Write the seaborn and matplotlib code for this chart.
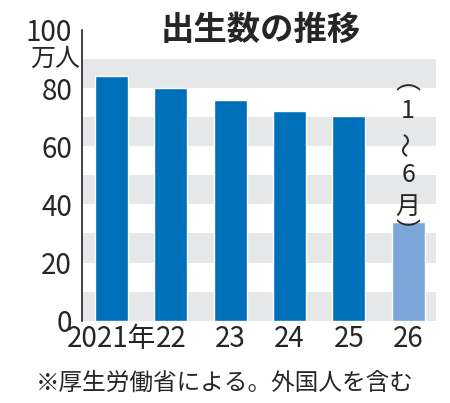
import matplotlib
matplotlib.use("Agg")
import matplotlib.pyplot as plt
import seaborn as sns
import pandas as pd

years = ["2021年", "22", "23", "24", "25", "26"]
births = [84.2, 80.0, 75.9, 72.2, 70.4, 34.0]
colors = ["#0070bb"] * 5 + ["#7ba7d8"]

sns.set_style("white")
plt.rcParams['font.family'] = ['Noto Sans CJK JP', 'DejaVu Sans']

df = pd.DataFrame({"year": years, "births": births})
fig = plt.figure(figsize=(4.5, 4.03), dpi=100)
ax = fig.add_axes([0.182, 0.204, 0.787, 0.722])

for lo in range(0, 100, 20):
    ax.axhspan(lo, lo + 10, color="#e6e7e8", zorder=0, lw=0)

sns.barplot(data=df, x="year", y="births", hue="year", palette=colors,
            legend=False, width=0.56, ax=ax, zorder=2, saturation=1)

ax.set_ylim(0, 100)
ax.set_xlim(-0.5, 5.47)
ax.set_yticks(range(0, 101, 20))
ax.set_yticks(range(0, 101, 10), minor=True)
ax.set_yticklabels([str(v) for v in range(0, 101, 20)], fontsize=20)
ax.tick_params(axis="y", which="both", direction="out", length=6, width=1,
               pad=1, color="#222222")
ax.tick_params(axis="x", length=0, labelsize=20, pad=2)
ax.set_xlabel("")
ax.set_ylabel("")
for s in ["top", "right", "bottom"]:
    ax.spines[s].set_visible(False)
ax.spines["left"].set_color("#222222")
ax.spines["left"].set_linewidth(1.2)

ax.text(-0.95, 90, "万人", fontsize=18, ha="center", va="center")
fig.text(0.58, 0.925, "出生数の推移", fontsize=24, fontweight="bold",
         ha="center", va="center")

# vertical note above the last bar
note = [("︵", 0), ("1", 0), ("〜", 90), ("6", 0), ("月", 0), ("︶", 0)]
ys = [82, 72, 61, 50, 39, 30]
for (ch, rot), y in zip(note, ys):
    ax.text(5, y, ch, fontsize=18, ha="center", va="center", rotation=rot)

fig.text(0.5, 0.05, "※厚生労働省による。外国人を含む", fontsize=17,
         ha="center", va="center")

fig.savefig("out.png", dpi=100)
